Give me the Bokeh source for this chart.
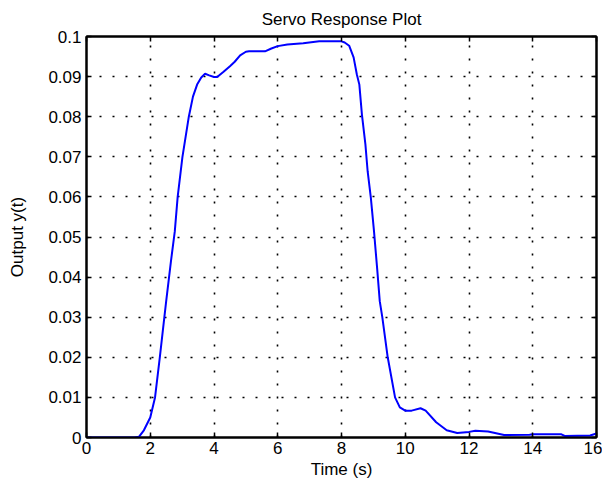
from bokeh.plotting import figure
from bokeh.models import Range1d, LinearAxis, FixedTicker
from bokeh.embed import file_html
from bokeh.resources import INLINE

t = [0, 1.5, 1.65, 1.8, 2.0, 2.15, 2.3, 2.4, 2.5, 2.65, 2.77, 2.86, 3.01, 3.21,
     3.34, 3.47, 3.6, 3.72, 3.85, 4.0, 4.1, 4.3, 4.5, 4.65, 4.82, 5.0, 5.1, 5.6,
     5.8, 6.0, 6.3, 6.8, 7.3, 8.0, 8.1, 8.24, 8.38, 8.48, 8.56, 8.64, 8.75, 8.82,
     8.92, 9.02, 9.12, 9.2, 9.28, 9.45, 9.68, 9.83, 10.0, 10.2, 10.48, 10.64,
     10.97, 11.3, 11.63, 12.0, 12.2, 12.6, 13.1, 13.9, 14.0, 14.9, 15.0, 15.8, 16.0]
y = [0, 0, 0.0002, 0.0018, 0.005, 0.010, 0.020, 0.027, 0.034, 0.044, 0.0514, 0.060,
     0.070, 0.080, 0.085, 0.088, 0.0898, 0.0907, 0.0903, 0.0899, 0.0899, 0.0912,
     0.0926, 0.0937, 0.0953, 0.0962, 0.0963, 0.0963, 0.097, 0.0976, 0.098, 0.0983,
     0.0988, 0.0988, 0.0985, 0.0977, 0.0948, 0.0906, 0.088, 0.0806, 0.0731, 0.0664,
     0.0598, 0.0514, 0.042, 0.034, 0.030, 0.020, 0.010, 0.0075, 0.0067, 0.0067,
     0.0073, 0.0067, 0.0038, 0.0018, 0.0011, 0.0014, 0.0017, 0.0015, 0.0006,
     0.0007, 0.0008, 0.0008, 0.0004, 0.0005, 0.001]

x_ticks = [0, 2, 4, 6, 8, 10, 12, 14, 16]
y_ticks = [0, 0.01, 0.02, 0.03, 0.04, 0.05, 0.06, 0.07, 0.08, 0.09, 0.1]
y_labels = {0: "0", 0.01: "0.01", 0.02: "0.02", 0.03: "0.03", 0.04: "0.04",
            0.05: "0.05", 0.06: "0.06", 0.07: "0.07", 0.08: "0.08", 0.09: "0.09",
            0.1: "0.1"}

FONT = "Liberation Sans"
FS = "17px"

p = figure(width=602, height=483, x_range=Range1d(0, 16), y_range=Range1d(0, 0.1),
           output_backend="svg", toolbar_location=None,
           min_border_left=86, min_border_right=6, min_border_top=36,
           min_border_bottom=46, title="Servo Response Plot")

p.title.text_font = FONT
p.title.text_font_size = FS
p.title.text_font_style = "normal"
p.title.text_color = "black"
p.title.align = "center"
p.title.vertical_align = "top"
p.title.offset = 0
p.title.standoff = 12

p.line(t, y, line_color="#0000ff", line_width=2)

p.outline_line_color = "black"
p.outline_line_width = 2
p.outline_line_alpha = 1
p.background_fill_color = "white"
p.border_fill_color = "white"

for ax in (p.xaxis[0], p.yaxis[0]):
    ax.axis_line_color = "black"
    ax.axis_line_width = 2
    ax.major_tick_in = 5
    ax.major_tick_out = 0
    ax.major_tick_line_width = 1.5
    ax.minor_tick_line_color = None
    ax.major_label_text_font = FONT
    ax.major_label_text_font_size = FS
    ax.major_label_text_color = "black"
    ax.axis_label_text_font = FONT
    ax.axis_label_text_font_size = FS
    ax.axis_label_text_font_style = "normal"
    ax.axis_label_text_color = "black"

p.xaxis[0].ticker = FixedTicker(ticks=x_ticks)
p.yaxis[0].ticker = FixedTicker(ticks=y_ticks)
p.yaxis[0].major_label_overrides = y_labels
p.xaxis[0].axis_label = "Time (s)"
p.yaxis[0].axis_label = "Output y(t)"
p.xaxis[0].major_label_standoff = 4
p.xaxis[0].axis_label_standoff = 3
p.yaxis[0].major_label_standoff = 5
p.yaxis[0].axis_label_standoff = 18

for g, ticks in ((p.xgrid[0], x_ticks), (p.ygrid[0], y_ticks)):
    g.ticker = FixedTicker(ticks=ticks)
    g.grid_line_color = "black"
    g.grid_line_alpha = 1
    g.grid_line_width = 1.6
    g.grid_line_dash = "2 11"

top = LinearAxis(ticker=FixedTicker(ticks=x_ticks))
right = LinearAxis(ticker=FixedTicker(ticks=y_ticks))
for ax in (top, right):
    ax.axis_line_color = "black"
    ax.axis_line_width = 2
    ax.major_tick_in = 5
    ax.major_tick_out = 0
    ax.major_tick_line_width = 1.5
    ax.minor_tick_line_color = None
    ax.major_label_text_color = None
    ax.major_label_text_font_size = "1px"
    ax.major_label_standoff = 0
p.add_layout(top, "above")
p.add_layout(right, "right")

open("out.html", "w").write(file_html(p, INLINE))
